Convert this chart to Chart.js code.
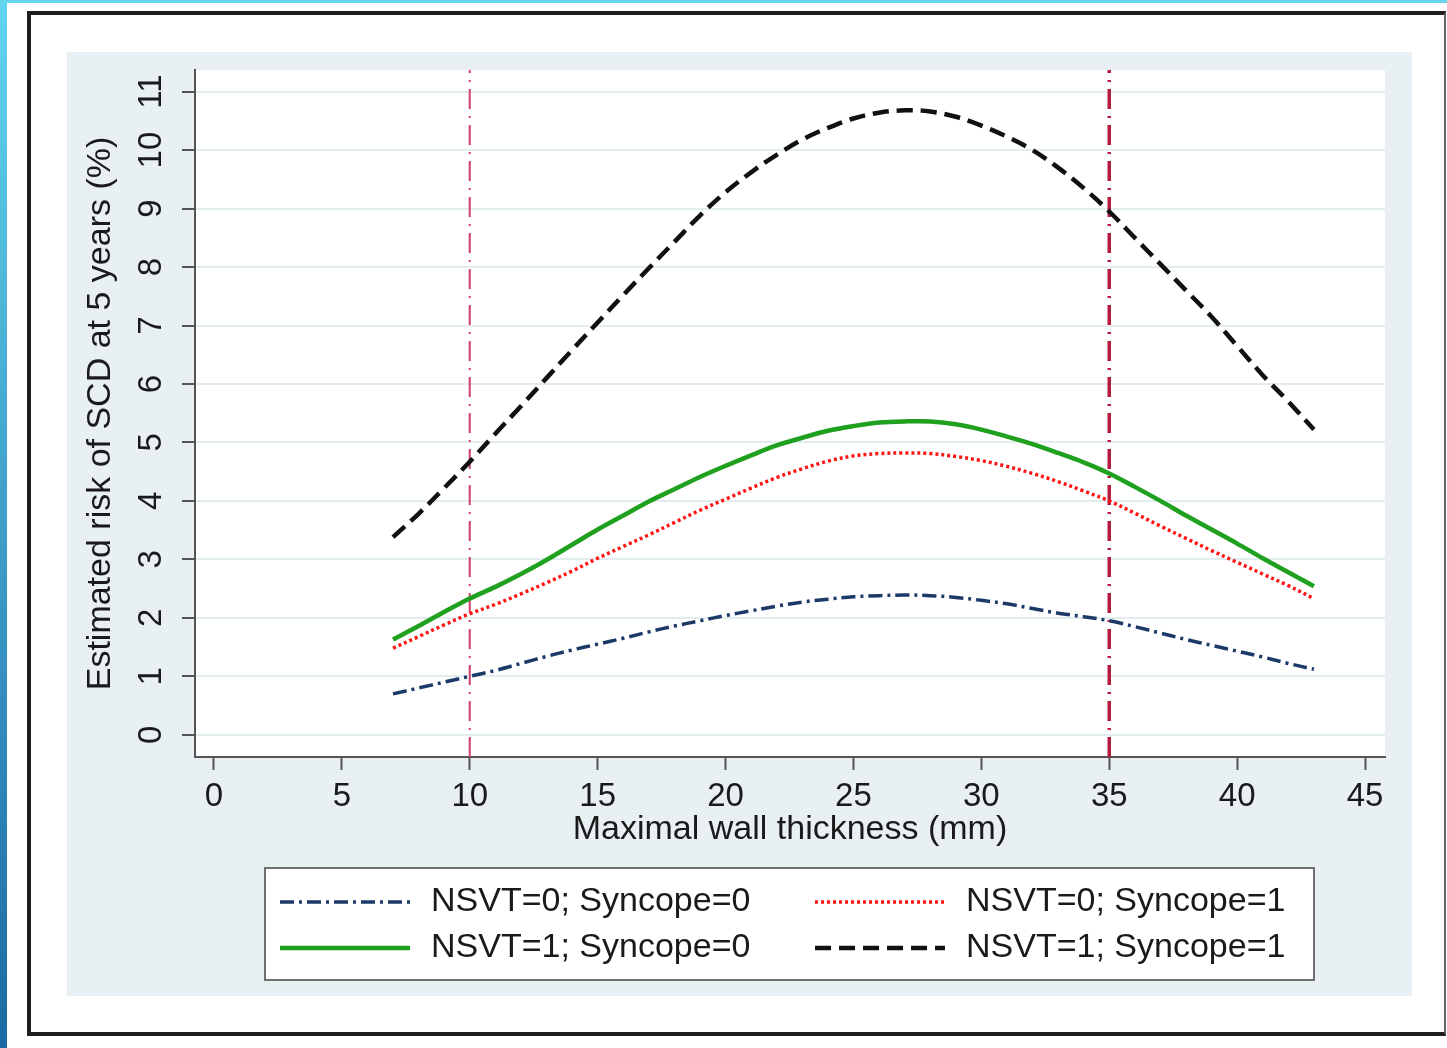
<!DOCTYPE html>
<html>
<head>
<meta charset="utf-8">
<title>Estimated risk of SCD at 5 years</title>
<script src="https://cdn.jsdelivr.net/npm/chart.js@4.4.1/dist/chart.umd.min.js"></script>
<style>
html, body { margin: 0; padding: 0; background: #fff; width: 1447px; height: 1048px; overflow: hidden; position: relative; }
#edgeL { position: absolute; left: 0; top: 0; width: 7px; height: 1048px; background: linear-gradient(#62d4ef, #1b6aa3); }
#edgeT { position: absolute; left: 0; top: 0; width: 1447px; height: 3px; background: #66d6ef; }
#frame { position: absolute; left: 27px; top: 11px; width: 1413px; height: 1017px; border: 4px solid #1e1e1e; border-right: 2px solid #666; }
#wrap { position: absolute; left: 67px; top: 52px; width: 1345px; height: 944px; }
</style>
</head>
<body>
<div id="edgeL"></div>
<div id="edgeT"></div>
<div id="frame"></div>
<div id="wrap"><canvas id="risk-chart" width="1345" height="944"></canvas></div>
<script>
// valori (spessore in mm, rischio in %)
const thickness = [7, 8, 9, 10, 11, 12, 13, 14, 15, 16, 17, 18, 19, 20, 21, 22, 23, 24, 25,
  26, 27, 28, 29, 30, 31, 32, 33, 34, 35, 36, 37, 38, 39, 40, 41, 42, 43];
const riskN0S0 = [0.70, 0.80, 0.90, 1.00, 1.10, 1.22, 1.34, 1.45, 1.55, 1.65, 1.76, 1.86, 1.95, 2.04, 2.12, 2.20, 2.27, 2.32, 2.36,
  2.38, 2.39, 2.38, 2.35, 2.30, 2.24, 2.16, 2.08, 2.02, 1.95, 1.85, 1.74, 1.63, 1.53, 1.43, 1.33, 1.22, 1.12];
const riskN0S1 = [1.48, 1.68, 1.88, 2.07, 2.23, 2.41, 2.60, 2.80, 3.02, 3.22, 3.42, 3.63, 3.84, 4.03, 4.22, 4.40, 4.55, 4.68, 4.77,
  4.81, 4.82, 4.81, 4.76, 4.69, 4.59, 4.47, 4.33, 4.17, 4.00, 3.79, 3.57, 3.36, 3.15, 2.95, 2.75, 2.55, 2.33];
const riskN1S0 = [1.63, 1.86, 2.10, 2.33, 2.53, 2.75, 2.99, 3.25, 3.51, 3.75, 3.99, 4.20, 4.41, 4.60, 4.78, 4.95, 5.08, 5.20, 5.28,
  5.34, 5.36, 5.36, 5.31, 5.22, 5.10, 4.97, 4.82, 4.66, 4.47, 4.24, 4.00, 3.75, 3.51, 3.27, 3.02, 2.78, 2.54];
const riskN1S1 = [3.38, 3.78, 4.22, 4.67, 5.15, 5.62, 6.10, 6.58, 7.05, 7.52, 7.98, 8.43, 8.88, 9.28, 9.62, 9.92, 10.18, 10.38, 10.54,
  10.64, 10.68, 10.66, 10.57, 10.42, 10.23, 10.00, 9.70, 9.35, 8.95, 8.50, 8.05, 7.60, 7.15, 6.65, 6.15, 5.70, 5.22];
const seriesLabels = ['NSVT=0; Syncope=0', 'NSVT=0; Syncope=1', 'NSVT=1; Syncope=0', 'NSVT=1; Syncope=1'];
const cutoffs = [10, 35];
const xTickValues = [0, 5, 10, 15, 20, 25, 30, 35, 40, 45];
const yTickValues = [0, 1, 2, 3, 4, 5, 6, 7, 8, 9, 10, 11];

// limiti degli assi
const X_MIN = -0.74, X_MAX = 45.78;
const Y_MIN = -0.38, Y_MAX = 11.37;

const FONT = 'Liberation Sans';
const TXT = '#1a1a1a';

function pts(arr) {
  return thickness.map((t, i) => ({ x: t, y: arr[i] }));
}

var curves = [
  { label: seriesLabels[0], data: pts(riskN0S0), borderColor: '#1b3a68', borderWidth: 3.5, borderDash: [14, 5, 3, 5] },
  { label: seriesLabels[1], data: pts(riskN0S1), borderColor: '#ff1414', borderWidth: 3.5, borderDash: [3, 3] },
  { label: seriesLabels[2], data: pts(riskN1S0), borderColor: '#1fa01f', borderWidth: 4.5, borderDash: [] },
  { label: seriesLabels[3], data: pts(riskN1S1), borderColor: '#111111', borderWidth: 4.5, borderDash: [16, 8] }
];

// linee verticali di riferimento
var refLines = cutoffs.map((c, i) => ({
  label: 'ref' + c,
  isRef: true,
  order: 1,
  data: [{ x: c, y: Y_MIN }, { x: c, y: Y_MAX }],
  borderColor: i === 0 ? '#d0416a' : '#b51d40',
  borderWidth: i === 0 ? 2 : 3.5,
  borderDash: [20, 7, 2, 7],
  tension: 0
}));

var stataLook = {
  id: 'stataLook',
  beforeDraw(chart) {
    const c = chart.ctx, a = chart.chartArea;
    c.save();
    c.fillStyle = '#e9f0f3';
    c.fillRect(0, 0, chart.width, chart.height);
    c.fillStyle = '#fff';
    c.fillRect(a.left, a.top, a.right - a.left, a.bottom - a.top);
    c.restore();
  },
  afterDraw(chart) {
    const c = chart.ctx, ys = chart.scales.y;
    // etichette asse y ruotate
    c.save();
    c.font = '33px "' + FONT + '"';
    c.fillStyle = TXT;
    c.textAlign = 'center';
    c.textBaseline = 'middle';
    ys.ticks.forEach(t => {
      c.save();
      c.translate(85, ys.getPixelForValue(t.value));
      c.rotate(-Math.PI / 2);
      c.fillText(String(t.value), 0, 0);
      c.restore();
    });
    c.restore();

    // legenda
    c.save();
    c.fillStyle = '#fff';
    c.fillRect(198, 816, 1049, 112);
    c.strokeStyle = '#707070';
    c.lineWidth = 2;
    c.strokeRect(198, 816, 1049, 112);
    const colX = [213, 748], rowY = [850, 896];
    const items = chart.data.datasets.filter(d => !d.isRef);
    items.forEach((ds, i) => {
      const x0 = colX[i % 2], y0 = rowY[Math.floor(i / 2)];
      c.save();
      c.strokeStyle = ds.borderColor;
      c.lineWidth = ds.borderWidth;
      c.setLineDash(ds.borderDash || []);
      c.beginPath();
      c.moveTo(x0, y0);
      c.lineTo(x0 + 130, y0);
      c.stroke();
      c.restore();
      c.font = '34px "' + FONT + '"';
      c.fillStyle = TXT;
      c.textAlign = 'left';
      c.textBaseline = 'middle';
      c.fillText(ds.label, x0 + 151, y0);
    });
    c.restore();
  }
};

var ctx = document.getElementById('risk-chart').getContext('2d');

var riskChart = new Chart(ctx, {
  type: 'line',
  data: { datasets: curves.concat(refLines) },
  plugins: [stataLook],
  options: {
    responsive: false,
    animation: false,
    layout: { padding: { left: 0, top: 18, right: 27, bottom: 139 } },
    plugins: { legend: { display: false }, tooltip: { enabled: false } },
    elements: { point: { radius: 0 }, line: { tension: 0.35, fill: false } },
    scales: {
      x: {
        type: 'linear', min: X_MIN, max: X_MAX,
        afterBuildTicks: s => { s.ticks = xTickValues.map(v => ({ value: v })); },
        afterFit: s => { s.height = 100; },
        grid: { drawOnChartArea: false, drawTicks: true, tickLength: 13, tickColor: '#555', tickWidth: 2 },
        border: { color: '#555', width: 2 },
        ticks: { font: { family: FONT, size: 33 }, color: TXT, padding: 7, maxRotation: 0, autoSkip: false },
        title: { display: true, text: 'Maximal wall thickness (mm)', font: { family: FONT, size: 34 }, color: TXT, padding: { top: 0, bottom: 7 } }
      },
      y: {
        type: 'linear', min: Y_MIN, max: Y_MAX,
        afterBuildTicks: s => { s.ticks = yTickValues.map(v => ({ value: v })); },
        afterFit: s => { s.width = 128; },
        grid: { color: '#e3ecef', lineWidth: 2, drawTicks: true, tickLength: 13, tickColor: '#555', tickWidth: 2 },
        border: { color: '#555', width: 2 },
        ticks: { display: false },
        title: { display: true, text: 'Estimated risk of SCD at 5 years (%)', font: { family: FONT, size: 34 }, color: TXT, padding: { top: 13, bottom: 0 } }
      }
    }
  }
});
</script>
</body>
</html>
